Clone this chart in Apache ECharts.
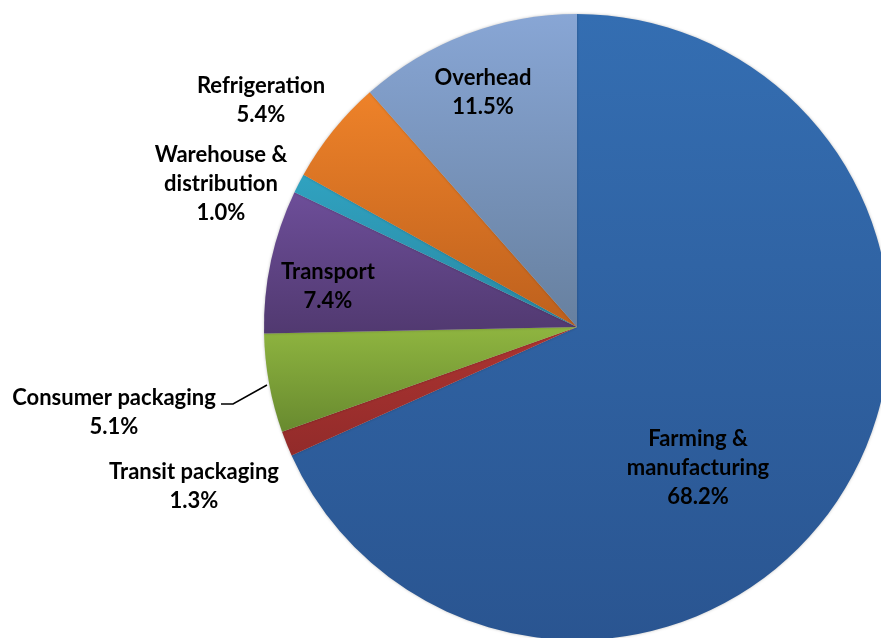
<!DOCTYPE html>
<html>
<head>
<meta charset="utf-8">
<script src="https://cdn.jsdelivr.net/npm/echarts@6/dist/echarts.min.js"></script>
<style>
  html, body { margin: 0; padding: 0; background: #ffffff; }
  #chart { width: 881px; height: 638px; }
</style>
</head>
<body>
<div id="chart"></div>
<script>
// Share of footprint by life-cycle stage (percent), clockwise from 12 o'clock
const stages = [
  'Farming &\nmanufacturing',
  'Transit packaging',
  'Consumer packaging',
  'Transport',
  'Warehouse &\ndistribution',
  'Refrigeration',
  'Overhead'
];
const shares = [68.2, 1.3, 5.1, 7.4, 1.0, 5.4, 11.5];

// Top / bottom colours of each slice's vertical gradient
const topColors    = ['#346eb2', '#ad3431', '#8fb540', '#6d4e99', '#30a2c0', '#ee8229', '#88a6d5'];
const bottomColors = ['#2a5591', '#922b2a', '#688a2f', '#513970', '#2988a3', '#bd601d', '#67809f'];

// Where each label block sits (text centre), in chart pixels
const labelSpots = [
  [698, 468], [194, 486], [114, 412], [328, 286], [221, 184], [261, 100], [483, 92]
];

const chart = echarts.init(document.getElementById('chart'), null, { renderer: 'canvas' });

const data = stages.map((name, i) => ({
  name: name,
  value: shares[i],
  itemStyle: {
    color: new echarts.graphic.LinearGradient(0, 0, 0, 1, [
      { offset: 0, color: topColors[i] },
      { offset: 1, color: bottomColors[i] }
    ])
  },
  labelLine: { show: i === 2, lineStyle: { color: '#000', width: 1.5 } }
}));

chart.setOption({
  animation: false,
  series: [{
    type: 'pie',
    center: [577, 327],
    radius: [0, 313],
    startAngle: 90,
    clockwise: true,
    avoidLabelOverlap: false,
    itemStyle: {
      borderWidth: 0,
      shadowBlur: 3,
      shadowColor: 'rgba(0,0,0,0.25)'
    },
    label: {
      show: true,
      position: 'outside',
      formatter: p => p.name + '\n' + p.value.toFixed(1) + '%',
      fontFamily: 'Lato',
      fontWeight: 'bold',
      fontSize: 22,
      lineHeight: 29,
      color: '#000',
      align: 'center'
    },
    labelLine: { show: false },
    labelLayout: function (params) {
      const spot = labelSpots[params.dataIndex];
      const out = {
        x: spot[0],
        y: spot[1],
        align: 'center',
        verticalAlign: 'middle'
      };
      if (params.dataIndex === 2) {
        out.labelLinePoints = [[267, 385], [233, 404], [221, 404]];
      }
      return out;
    },
    data: data
  }]
});
</script>
</body>
</html>
